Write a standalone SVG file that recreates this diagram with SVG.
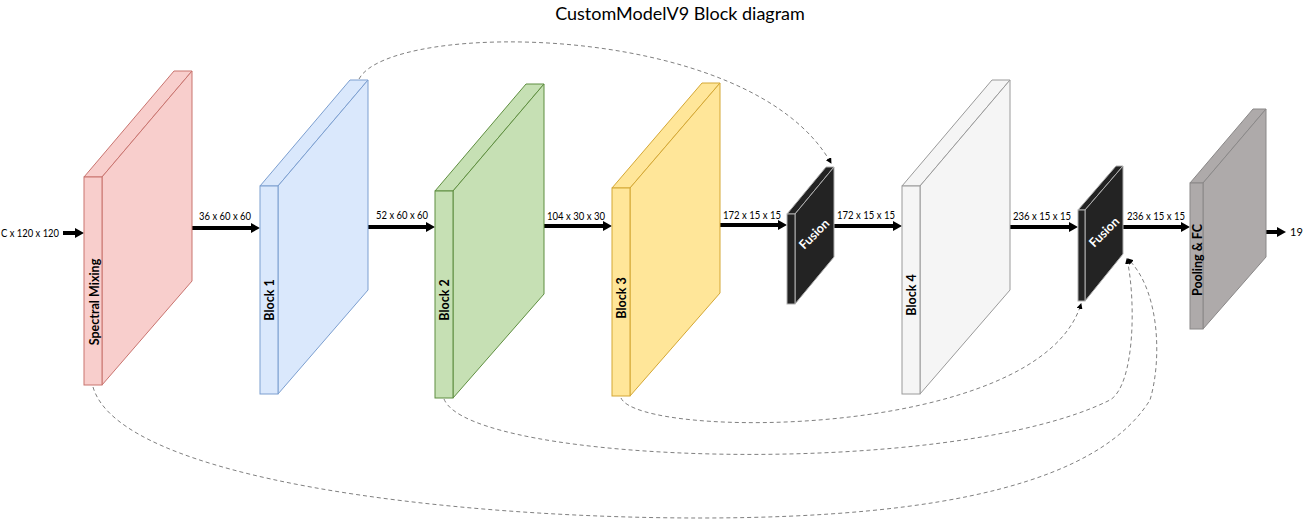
<svg xmlns="http://www.w3.org/2000/svg" width="1303" height="529" viewBox="0 0 1303 529">
<style>
text{font-family:Lato,"Open Sans","Liberation Sans",sans-serif;fill:#000;stroke:none}
.title{font-size:18px}
.lbl{font-size:11px}
.vl{font-size:12.5px;font-weight:bold;text-anchor:middle;fill:#000}
.fl{font-size:12.5px;font-weight:bold;fill:#fff;text-anchor:middle}
.sm polygon,.sm rect{fill:#f8cecc;stroke:#c9746f;stroke-width:1}
.b1 polygon,.b1 rect{fill:#dae8fc;stroke:#7c9fd0;stroke-width:1}
.b2 polygon,.b2 rect{fill:#c6e0b4;stroke:#5f8e40;stroke-width:1}
.b3 polygon,.b3 rect{fill:#ffe699;stroke:#d4a734;stroke-width:1}
.b4 polygon,.b4 rect{fill:#f5f5f5;stroke:#9a9a9a;stroke-width:1}
.fu polygon,.fu rect{fill:#232323;stroke:#b0b0b0;stroke-width:1}
.pf polygon,.pf rect{fill:#aeaaaa;stroke:#8a8888;stroke-width:1}
.main{stroke:#000;stroke-width:4;fill:none;marker-end:url(#big)}
.skip{stroke:#808080;stroke-width:1;fill:none;stroke-dasharray:4 3;marker-end:url(#small)}
</style>
<defs>
<marker id="big" markerWidth="9" markerHeight="10" refX="3" refY="5" orient="auto" markerUnits="userSpaceOnUse"><path d="M0,0 L9,5 L0,10 Z" fill="#000"/></marker>
<marker id="small" markerWidth="6" markerHeight="6" refX="5" refY="3" orient="auto" markerUnits="userSpaceOnUse"><path d="M0,0 L6,3 L0,6 Z" fill="#000"/></marker>
</defs>
<text class="title" x="680" y="20" text-anchor="middle">CustomModelV9 Block diagram</text>

<g id="connectors">
<path class="skip" d="M359,79 C390,20 750,20 831,163"/>
<path class="skip" d="M621,398 C640,440 1040,440 1081,304"/>
<path class="skip" d="M444,399 C470,465 950,480 1110,400 C1135,385 1136,300 1127,259"/>
<path class="skip" d="M93,387 C120,480 450,518 700,518 C950,518 1100,480 1150,400 C1162,360 1160,290 1128,259"/>
<line class="main" x1="63" y1="233" x2="78" y2="233"/>
<line class="main" x1="192" y1="228" x2="254" y2="228"/>
<line class="main" x1="368" y1="227" x2="429" y2="227"/>
<line class="main" x1="544" y1="226" x2="606" y2="226"/>
<line class="main" x1="720" y1="225" x2="781" y2="225"/>
<line class="main" x1="834" y1="226" x2="896" y2="226"/>
<line class="main" x1="1010" y1="227" x2="1072" y2="227"/>
<line class="main" x1="1123" y1="227" x2="1184" y2="227"/>
<line class="main" x1="1266" y1="232" x2="1280" y2="232"/>
<text class="lbl" x="1" y="237" textLength="58" lengthAdjust="spacingAndGlyphs">C x 120 x 120</text>
<text class="lbl" x="199" y="220" textLength="52" lengthAdjust="spacingAndGlyphs">36 x 60 x 60</text>
<text class="lbl" x="376" y="219" textLength="52" lengthAdjust="spacingAndGlyphs">52 x 60 x 60</text>
<text class="lbl" x="547" y="220" textLength="58" lengthAdjust="spacingAndGlyphs">104 x 30 x 30</text>
<text class="lbl" x="723" y="219" textLength="58" lengthAdjust="spacingAndGlyphs">172 x 15 x 15</text>
<text class="lbl" x="837" y="219" textLength="58" lengthAdjust="spacingAndGlyphs">172 x 15 x 15</text>
<text class="lbl" x="1013" y="220" textLength="58" lengthAdjust="spacingAndGlyphs">236 x 15 x 15</text>
<text class="lbl" x="1127" y="220" textLength="58" lengthAdjust="spacingAndGlyphs">236 x 15 x 15</text>
<text class="lbl" x="1290" y="236">19</text>
</g>

<g id="spectral-mixing" class="sm">
<polygon points="84,177 102,177 192,71 174,71"/>
<polygon points="102,177 192,71 192,281 102,385"/>
<rect x="84" y="177" width="18" height="208"/>
<text class="vl" dy="0.36em" transform="translate(94,302) rotate(-90)">Spectral Mixing</text>
</g>

<g id="block1" class="b1">
<polygon points="260,186 278,186 368,80 350,80"/>
<polygon points="278,186 368,80 368,290 278,394"/>
<rect x="260" y="186" width="18" height="208"/>
<text class="vl" dy="0.36em" transform="translate(269,300) rotate(-90)">Block 1</text>
</g>

<g id="block2" class="b2">
<polygon points="435,191 453,191 544,84 526,84"/>
<polygon points="453,191 544,84 544,294 453,398"/>
<rect x="435" y="191" width="18" height="207"/>
<text class="vl" dy="0.36em" transform="translate(444,300) rotate(-90)">Block 2</text>
</g>

<g id="block3" class="b3">
<polygon points="612,188 630,188 720,83 702,83"/>
<polygon points="630,188 720,83 720,293 630,396"/>
<rect x="612" y="188" width="18" height="208"/>
<text class="vl" dy="0.36em" transform="translate(621,298) rotate(-90)">Block 3</text>
</g>

<g id="fusion1" class="fu">
<polygon points="787,214 795,214 834,167 826,167"/>
<polygon points="795,214 834,167 834,257 795,304"/>
<rect x="787" y="214" width="8" height="90"/>
<text class="fl" dy="0.36em" transform="translate(814,234) rotate(-45)">Fusion</text>
</g>

<g id="block4" class="b4">
<polygon points="902,186 920,186 1010,80 992,80"/>
<polygon points="920,186 1010,80 1010,290 920,394"/>
<rect x="902" y="186" width="18" height="208"/>
<text class="vl" dy="0.36em" transform="translate(911,295) rotate(-90)">Block 4</text>
</g>

<g id="fusion2" class="fu">
<polygon points="1078,210 1085,210 1123,166 1116,166"/>
<polygon points="1085,210 1123,166 1123,254 1085,301"/>
<rect x="1078" y="210" width="7" height="91"/>
<text class="fl" dy="0.36em" transform="translate(1104,232) rotate(-45)">Fusion</text>
</g>

<g id="pooling-fc" class="pf">
<polygon points="1190,183 1203,183 1266,109 1253,109"/>
<polygon points="1203,183 1266,109 1266,257 1203,329"/>
<rect x="1190" y="183" width="13" height="146"/>
<text class="vl" dy="0.36em" transform="translate(1197,260) rotate(-90)">Pooling &amp; FC</text>
</g>
</svg>
